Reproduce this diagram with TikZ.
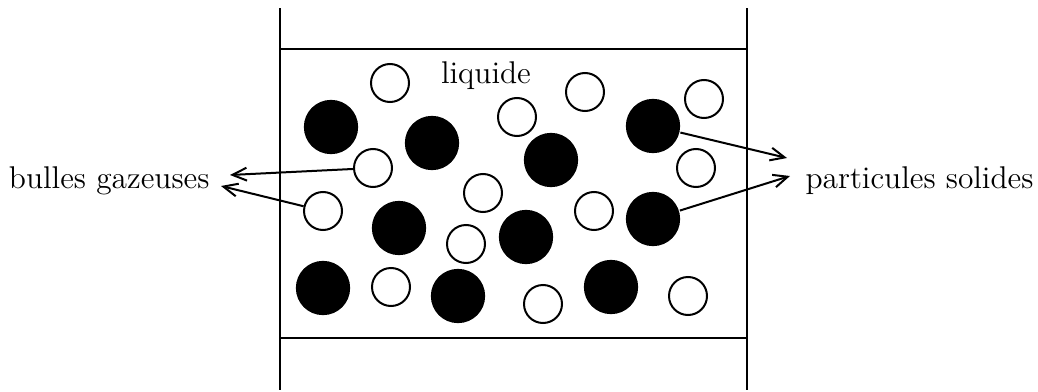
\documentclass[tikz,border=0pt]{standalone}
\usepackage{tikz}
\usetikzlibrary{arrows.meta}

\begin{document}
\begin{tikzpicture}[x=0.35pt, y=-0.35pt, line width=0.7pt, >={Straight Barb[length=5pt,width=4.5pt]},
	every node/.style={font=\fontsize{11}{13}\selectfont},
	bulle/.style={circle, draw, minimum size=13.3pt, inner sep=0pt},
	grain/.style={circle, fill=black, minimum size=19pt, inner sep=0pt}]
	\useasboundingbox (0,0) rectangle (1038,392);
	% parois et niveaux du liquide
	\draw (280,8) -- (280,390);
	\draw (747,8) -- (747,390);
	\draw (280,49) -- (747,49);
	\draw (280,338) -- (747,338);
	\node (liq) at (486,76) {liquide};
	% bulles gazeuses
	\foreach \n/\x/\y in {1/390/83, 2/517/117, 3/585/92, 4/704/99, 5/373/168, 6/696/168, 7/483/193,
		8/323/211, 9/594/211, 10/466/244, 11/391/287, 12/543/304, 13/688/296} {
		\node[bulle] (b\n) at (\x,\y) {};
	}
	% particules solides
	\foreach \n/\x/\y in {1/331/127, 2/432/143, 3/551/160, 4/653/126, 5/399/228, 6/526/237, 7/653/219,
		8/323/288, 9/458/296, 10/611/287} {
		\node[grain] (g\n) at (\x,\y) {};
	}
	% legendes
	\node[anchor=east] (gaz) at (220,181) {bulles gazeuses};
	\node[anchor=west] (sol) at (795,181) {particules solides};
	\coordinate (gazA) at (230,175);
	\coordinate (gazB) at (221,186);
	\coordinate (solA) at (787,158);
	\coordinate (solB) at (790,176);
	\draw[->] (b5) -- (gazA);
	\draw[->] (b8) -- (gazB);
	\draw[->] (g4) -- (solA);
	\draw[->] (g7) -- (solB);
\end{tikzpicture}
\end{document}
